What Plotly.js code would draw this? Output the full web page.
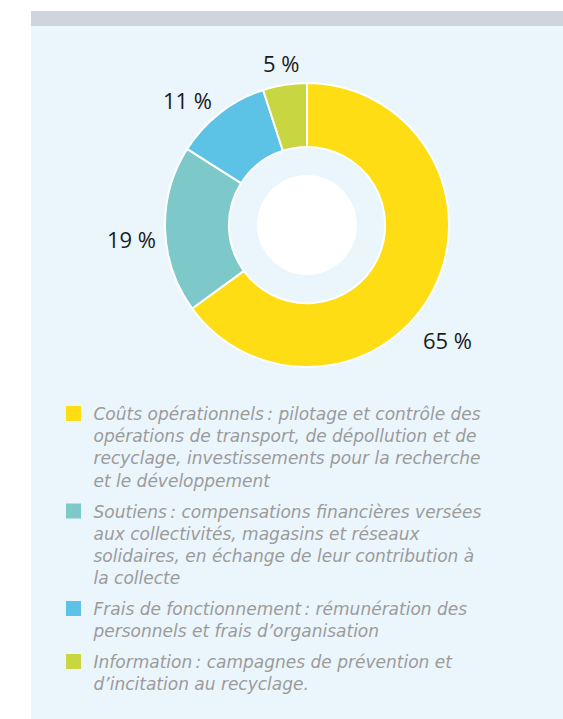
<!DOCTYPE html>
<html>
<head>
<meta charset="utf-8">
<script src="https://cdn.plot.ly/plotly-3.0.1.min.js"></script>
<style>
  html, body { margin: 0; padding: 0; background: #ffffff; width: 563px; height: 719px; overflow: hidden; }
  #bar { position: absolute; left: 31px; top: 11px; width: 532px; height: 15px; background: #CFD4DF; }
  #chart { position: absolute; left: 31px; top: 26px; width: 532px; height: 693px; }
</style>
</head>
<body>
<div id="bar"></div>
<div id="chart"></div>
<script>
const categories = [
  "Coûts opérationnels\u202F: pilotage et contrôle des<br>opérations de transport, de dépollution et de<br>recyclage, investissements pour la recherche<br>et le développement",
  "Soutiens\u202F: compensations financières versées<br>aux collectivités, magasins et réseaux<br>solidaires, en échange de leur contribution à<br>la collecte",
  "Frais de fonctionnement\u202F: rémunération des<br>personnels et frais d’organisation",
  "Information\u202F: campagnes de prévention et<br>d’incitation au recyclage."
];
const values = [65, 19, 11, 5];
const colors = ["#FFDD15", "#7DC8C9", "#5CC3E6", "#C8D641"];

// label placement (paper coords) – layout only
const labelPos = [[0.782, 0.547], [0.188, 0.693], [0.295, 0.893], [0.470, 0.947]];

const donut = {
  type: "pie",
  values: values,
  labels: categories,
  sort: false,
  direction: "clockwise",
  rotation: 0,
  hole: 0.55,
  marker: { colors: colors, line: { color: "#ffffff", width: 2 } },
  textinfo: "none",
  domain: { x: [0.2519, 0.7857], y: [0.5079, 0.9177] },
  hoverinfo: "none",
  showlegend: false
};

const innerDisc = {
  type: "pie",
  values: [1],
  labels: [""],
  sort: false,
  marker: { colors: ["#ffffff"], line: { width: 0 } },
  textinfo: "none",
  domain: { x: [0.4248, 0.6128], y: [0.6407, 0.7850] },
  hoverinfo: "none",
  showlegend: false
};

const legendTraces = categories.map((name, i) => ({
  type: "scatter",
  mode: "markers",
  x: [null],
  y: [null],
  name: name,
  legendgroup: "g" + i,
  marker: { symbol: "square", size: 15, color: colors[i], line: { width: 0 } },
  hoverinfo: "skip",
  showlegend: true
}));

const annotations = values.map((v, i) => ({
  xref: "paper",
  yref: "paper",
  x: labelPos[i][0],
  y: labelPos[i][1],
  xanchor: "center",
  yanchor: "middle",
  text: v + " %",
  showarrow: false,
  font: { family: "Open Sans, sans-serif", size: 22, color: "#1b1b1b" }
}));

const layout = {
  width: 532,
  height: 693,
  margin: { l: 0, r: 0, t: 0, b: 0 },
  paper_bgcolor: "#EBF5FC",
  plot_bgcolor: "rgba(0,0,0,0)",
  xaxis: { visible: false, domain: [0, 0.01] },
  yaxis: { visible: false, domain: [0, 0.01] },
  showlegend: true,
  annotations: annotations,
  legend: {
    x: 0.0423,
    y: 0.466,
    xanchor: "left",
    yanchor: "top",
    valign: "top",
    tracegroupgap: 6,
    itemsizing: "trace",
    bgcolor: "rgba(0,0,0,0)",
    font: { family: "DejaVu Sans, sans-serif", size: 17, color: "#9B9B9B", style: "italic" },
    itemclick: false,
    itemdoubleclick: false
  }
};

Plotly.newPlot("chart", [donut, innerDisc].concat(legendTraces), layout, { displayModeBar: false, staticPlot: true });
</script>
</body>
</html>
